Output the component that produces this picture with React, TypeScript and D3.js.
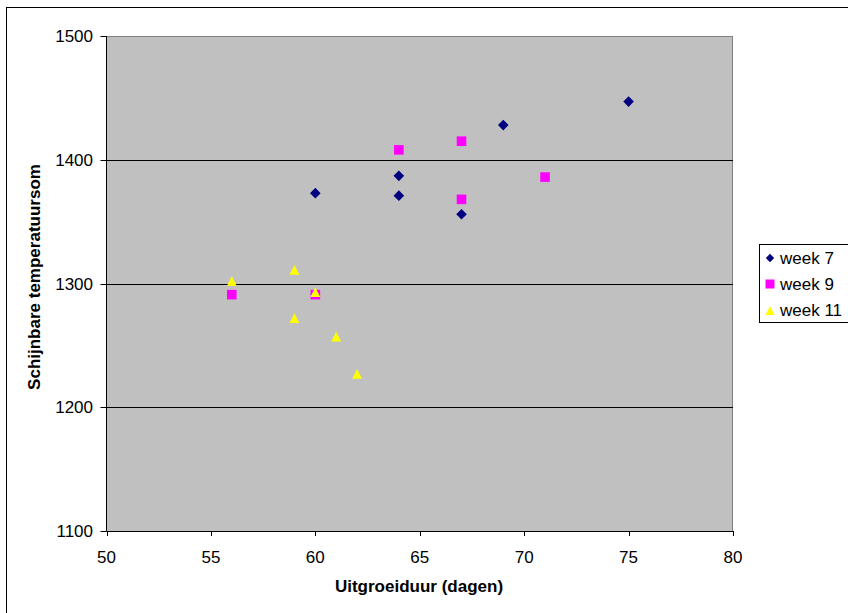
import React from "react";
import * as d3 from "d3";

const xTicks = [50, 55, 60, 65, 70, 75, 80];
const yTicks = [1100, 1200, 1300, 1400, 1500];

const week7X = [60, 64, 64, 67, 69, 75];
const week7Y = [1373, 1387, 1371, 1356, 1428, 1447];
const week9X = [56, 60, 64, 67, 67, 71];
const week9Y = [1291, 1291, 1408, 1415, 1368, 1386];
const week11X = [56, 59, 59, 60, 61, 62];
const week11Y = [1302, 1311, 1272, 1293, 1257, 1227];

const seriesNames = ["week 7", "week 9", "week 11"];
const seriesColors = ["#000080", "#FF00FF", "#FFFF00"];

const W = 848;
const H = 613;
const left = 106.5;
const right = 733;
const top = 36;
const bottom = 531;
const FONT = "Arial, 'Liberation Sans', sans-serif";

const diamondPath = (s: number) => `M0,${-s}L${s},0L0,${s}L${-s},0Z`;
const squarePath = (s: number) => `M${-s},${-s}H${s}V${s}H${-s}Z`;
const trianglePath = (s: number) => `M0,${-s}L${s},${s}L${-s},${s}Z`;

export default function App() {
  const x = d3.scaleLinear().domain([50, 80]).range([left, right]);
  const y = d3.scaleLinear().domain([1100, 1500]).range([bottom, top]);

  const series = [
    { name: seriesNames[0], color: seriesColors[0], xs: week7X, ys: week7Y, path: diamondPath(5.3) },
    { name: seriesNames[1], color: seriesColors[1], xs: week9X, ys: week9Y, path: squarePath(4.8) },
    { name: seriesNames[2], color: seriesColors[2], xs: week11X, ys: week11Y, path: trianglePath(4.9) },
  ];
  const legendPaths = [diamondPath(4.2), squarePath(4.5), trianglePath(4.5)];
  const legendY = [258, 284, 310.5];

  return (
    <svg
      width={W}
      height={H}
      style={{ position: "absolute", left: 0, top: 0, background: "#fff" }}
      fontFamily={FONT}
    >
      <rect x={6.5} y={7.5} width={900} height={700} fill="#fff" stroke="#000" strokeWidth={1} />
      <rect x={left} y={top} width={right - left} height={bottom - top} fill="#C0C0C0" />
      {/* plot border top / right */}
      <line x1={left} x2={right} y1={top + 0.5} y2={top + 0.5} stroke="#808080" />
      <line x1={right - 0.5} x2={right - 0.5} y1={top} y2={bottom} stroke="#808080" />
      {/* gridlines */}
      {yTicks
        .filter((t) => t !== 1100 && t !== 1500)
        .map((t) => (
          <line key={t} x1={left} x2={right} y1={Math.round(y(t)) + 0.5} y2={Math.round(y(t)) + 0.5} stroke="#000" />
        ))}
      {/* axes */}
      <line x1={left} x2={left} y1={top} y2={bottom + 0.5} stroke="#000" />
      <line x1={left} x2={right} y1={bottom + 0.5} y2={bottom + 0.5} stroke="#000" />
      {yTicks.map((t) => (
        <g key={t}>
          <line x1={left - 6} x2={left} y1={Math.round(y(t)) + 0.5} y2={Math.round(y(t)) + 0.5} stroke="#000" />
          <text x={93} y={y(t) + 6} textAnchor="end" fontSize={17}>
            {t}
          </text>
        </g>
      ))}
      {xTicks.map((t) => (
        <g key={t}>
          <line x1={Math.round(x(t)) + 0.5} x2={Math.round(x(t)) + 0.5} y1={bottom} y2={bottom + 5} stroke="#000" />
          <text x={x(t)} y={563} textAnchor="middle" fontSize={17}>
            {t}
          </text>
        </g>
      ))}
      {/* axis titles */}
      <text x={419} y={592} textAnchor="middle" fontSize={17} fontWeight="bold">
        Uitgroeiduur (dagen)
      </text>
      <text
        transform={`translate(40,277) rotate(-90)`}
        textAnchor="middle"
        fontSize={17}
        fontWeight="bold"
      >
        Schijnbare temperatuursom
      </text>
      {/* points */}
      {series.map((s) => (
        <g key={s.name}>
          {s.xs.map((xv, i) => (
            <path
              key={i}
              d={s.path}
              transform={`translate(${x(xv)},${y(s.ys[i])})`}
              fill={s.color}
            />
          ))}
        </g>
      ))}
      {/* legend */}
      <rect x={759.5} y={244.5} width={120} height={78} fill="#fff" stroke="#000" />
      {series.map((s, i) => (
        <g key={s.name}>
          <path d={legendPaths[i]} transform={`translate(770,${legendY[i]})`} fill={s.color} />
          <text x={780} y={legendY[i] + 5.5} fontSize={17}>
            {s.name}
          </text>
        </g>
      ))}
    </svg>
  );
}
